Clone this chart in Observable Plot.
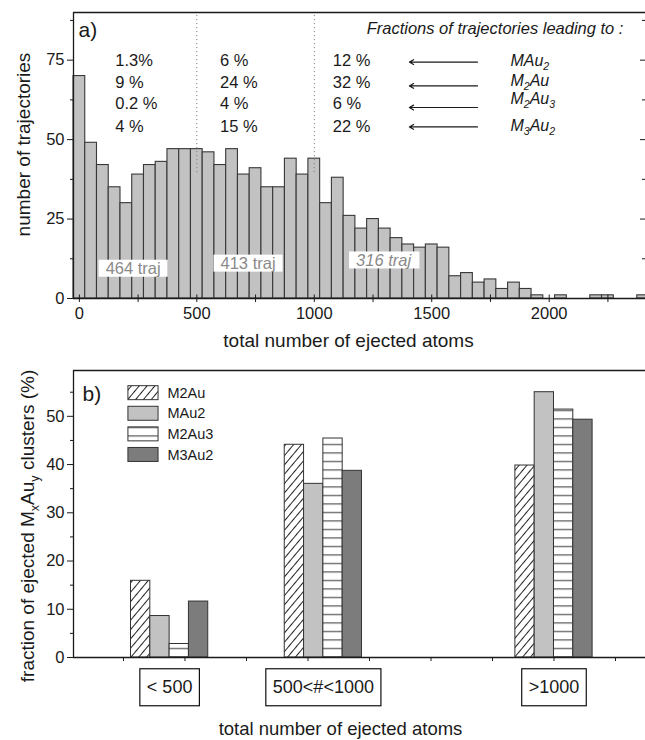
<!DOCTYPE html>
<html>
<head>
<meta charset="utf-8">
<script src="https://cdn.jsdelivr.net/npm/d3@7"></script>
<script src="https://cdn.jsdelivr.net/npm/@observablehq/plot@0.6"></script>
<style>
  body { margin: 0; background: #fff; }
  svg { display: block; }
</style>
</head>
<body>
<div id="chart"></div>
<script>
// ---------- data: (a) histogram of trajectories ----------
const binWidth = 50;
const binCenters = d3.range(0, 2401, binWidth);
const trajCounts = [70, 49, 42, 35, 30, 39, 42, 43, 47, 47,
                    47, 46, 42, 47, 39, 41, 35, 35, 44, 39,
                    44, 30, 38, 26, 22, 25, 22, 19, 17, 16,
                    17, 16, 7, 8, 5, 6, 3, 5, 3, 1,
                    0, 1, 0, 0, 1, 1, 0, 0, 1];
const regionSplits = [500, 1000];
const regionTraj = [464, 413, 316];
const species = ["MAu_2", "M_2Au", "M_2Au_3", "M_3Au_2"];
const fracBelow500 = ["1.3%", "9 %", "0.2 %", "4 %"];
const frac500to1000 = ["6 %", "24 %", "4 %", "15 %"];
const fracAbove1000 = ["12 %", "32 %", "6 %", "22 %"];

// ---------- data: (b) cluster fractions per size range ----------
const sizeRanges = ["< 500", "500<#<1000", ">1000"];
const clusterTypes = ["M2Au", "MAu2", "M2Au3", "M3Au2"];
const fracM2Au = [15.9, 44.1, 39.8];
const fracMAu2 = [8.6, 36.0, 55.0];
const fracM2Au3 = [2.8, 45.4, 51.4];
const fracM3Au2 = [11.6, 38.7, 49.3];

// ---------- shared styling ----------
const FONT = "'Liberation Sans', Arial, Helvetica, sans-serif";
const INK = "#1a1a1a";
const baseStyle = {fontFamily: FONT, fontSize: "16.5px", color: INK, background: "white", overflow: "visible"};

// ================= panel (a) =================
const xDomA = [-25, 2410], yDomA = [0, 90];
const hist = binCenters
  .map((c, i) => ({x1: c - binWidth / 2, x2: c + binWidth / 2, n: trajCounts[i]}))
  .filter(d => d.n > 0);

const fracCols = [fracBelow500, frac500to1000, fracAbove1000];
const fracRows = [];
fracCols.forEach((col, j) => col.forEach((t, i) => fracRows.push({col: j, row: i, text: t})));
const colX = [153, 599, 1079];          // start of each column of fractions
const rowY = [74.7, 67.9, 61.2, 54.1];  // one row per cluster species
const arrowY = [74.4, 66.9, 60.1, 54.0];
const speciesY = [74.9, 68.4, 62.8, 54.3];

const trajLabels = regionTraj.map((n, i) => ({
  text: `${n} traj`, x: [229, 718, 1295][i], y: [9.3, 10.9, 11.9][i], italic: i === 2
}));

const unitsPerPxA = (xDomA[1] - xDomA[0]) / 572;
const unitsPerPyA = (yDomA[1] - yDomA[0]) / 286;

const plotA = Plot.plot({
  width: 645, height: 355,
  marginLeft: 73, marginRight: 0, marginTop: 12, marginBottom: 57,
  x: {domain: xDomA},
  y: {domain: yDomA},
  style: baseStyle,
  marks: [
    Plot.rectY(hist, {x1: "x1", x2: "x2", y: "n", fill: "#c2c2c2", stroke: "#383838", strokeWidth: 1.1}),
    Plot.ruleX(regionSplits, {y1: 39.6, y2: 89.3, stroke: "#808080", strokeWidth: 1, strokeDasharray: "1.2,2.8"}),
    // frame (left, top, bottom)
    Plot.ruleX([xDomA[0]], {stroke: INK, strokeWidth: 1.3}),
    Plot.ruleY([0, yDomA[1]], {stroke: INK, strokeWidth: 1.3}),
    // axes
    Plot.axisY({ticks: [0, 25, 50, 75], tickSize: 6, tickPadding: 3, label: null, fontSize: 16.5}),
    Plot.axisY({ticks: [12.5, 37.5, 62.5, 87.5], tickSize: 3, tickFormat: () => "", label: null}),
    Plot.ruleY([12.5, 25, 37.5, 50, 62.5, 75, 87.5], {
      x1: d => xDomA[1] - (d % 25 === 0 ? 5 : 3) * unitsPerPxA, x2: xDomA[1], stroke: INK
    }),
    Plot.axisX({ticks: [0, 500, 1000, 1500, 2000], tickSize: 4, tickPadding: 5, label: null,
      tickFormat: d => String(d), fontSize: 16.5}),
    Plot.axisX({ticks: d3.range(250, 2401, 500), tickSize: 4, tickFormat: () => "", label: null}),
    Plot.ruleX(d3.range(0, 2401, 250), {y1: 0, y2: 3.5 * unitsPerPyA, stroke: INK}),
    // axis titles
    Plot.text(["total number of ejected atoms"], {text: d => d, frameAnchor: "bottom", dy: 42, dx: -11,
      textAnchor: "middle", lineAnchor: "middle", fontSize: 19}),
    Plot.text(["number of trajectories"], {text: d => d, frameAnchor: "left", rotate: -90, dx: -50, dy: -11,
      textAnchor: "middle", lineAnchor: "middle", fontSize: 19}),
    // panel tag and annotations
    Plot.text(["a)"], {text: d => d, frameAnchor: "top-left", dx: 5, dy: 18, textAnchor: "start",
      lineAnchor: "middle", fontSize: 21}),
    Plot.text(["Fractions of trajectories leading to :"], {text: d => d, x: 1223, y: 84.8,
      textAnchor: "start", fontStyle: "italic", fontSize: 16.5}),
    Plot.text(fracRows, {x: d => colX[d.col], y: d => rowY[d.row], text: "text", textAnchor: "start", fontSize: 16.5}),
    Plot.arrow(arrowY, {x1: 1695, x2: 1405, y1: d => d, y2: d => d, headLength: 6, stroke: INK, strokeWidth: 1.2}),
    Plot.text(species, {x: 1835, y: (d, i) => speciesY[i], text: d => d, textAnchor: "start",
      fontStyle: "italic", fontSize: 16}),
    Plot.text(trajLabels.filter(d => !d.italic), {x: "x", y: "y", text: "text", fill: "#8a8a8a", fontSize: 16.5}),
    Plot.text(trajLabels.filter(d => d.italic), {x: "x", y: "y", text: "text", fill: "#8a8a8a",
      fontSize: 16.5, fontStyle: "italic"})
  ]
});

// ================= panel (b) =================
const xDomB = [-0.813, 8.488], yDomB = [0, 59.5];
const groupPos = [0.75, 3.25, 7];
const barW = 0.314;
const seriesVals = [fracM2Au, fracMAu2, fracM2Au3, fracM3Au2];
const barsB = [];
clusterTypes.forEach((type, k) => seriesVals[k].forEach((v, g) => barsB.push({
  type, v, x1: groupPos[g] + (k - 2) * barW, x2: groupPos[g] + (k - 1) * barW
})));
const fills = {M2Au: "url(#hatchDiag)", MAu2: "#c2c2c2", M2Au3: "url(#hatchHoriz)", M3Au2: "#7c7c7c"};

// legend layout (data units)
const legendX = [0.08, 0.57], legendTextX = 0.715;
const legendTop = 54.8, legendStep = 4.27, legendHalf = 1.45;

const plotB = Plot.plot({
  width: 645, height: 385,
  marginLeft: 73, marginRight: 0, marginTop: 15, marginBottom: 83,
  x: {domain: xDomB},
  y: {domain: yDomB},
  style: baseStyle,
  marks: [
    ...clusterTypes.map(t => Plot.rectY(barsB.filter(d => d.type === t), {
      x1: "x1", x2: "x2", y: "v", fill: fills[t], stroke: "#333", strokeWidth: 1
    })),
    Plot.ruleX([xDomB[0]], {stroke: INK, strokeWidth: 1.3}),
    Plot.ruleY([0, yDomB[1]], {stroke: INK, strokeWidth: 1.3}),
    Plot.axisY({ticks: d3.range(0, 51, 10), tickSize: 6, tickPadding: 3, label: null, fontSize: 16.5}),
    Plot.axisY({ticks: d3.range(5, 56, 10), tickSize: 3, tickFormat: () => "", label: null}),
    Plot.axisX({ticks: d3.range(0, 9), tickSize: 4, tickFormat: () => "", label: null}),
    // legend
    ...clusterTypes.map((t, i) => Plot.rect([t], {
      x1: legendX[0], x2: legendX[1],
      y1: legendTop - i * legendStep - legendHalf, y2: legendTop - i * legendStep + legendHalf,
      fill: fills[t], stroke: "#333", strokeWidth: 1
    })),
    Plot.text(clusterTypes, {x: legendTextX, y: (d, i) => legendTop - i * legendStep, text: d => d,
      textAnchor: "start", fontSize: 14.5}),
    Plot.text(["b)"], {text: d => d, frameAnchor: "top-left", dx: 9, dy: 24, textAnchor: "start",
      lineAnchor: "middle", fontSize: 21}),
    // size-range labels, boxed below each group
    Plot.text(sizeRanges, {x: (d, i) => groupPos[i], y: 0, dy: 30, text: d => d, fontSize: 18,
      lineAnchor: "middle"}),
    // axis titles
    Plot.text(["total number of ejected atoms"], {text: d => d, frameAnchor: "bottom", dy: 72, dx: -19,
      textAnchor: "middle", lineAnchor: "middle", fontSize: 18.5}),
    Plot.text(["fraction of ejected M_xAu_y clusters (%)"], {text: d => d, frameAnchor: "left", rotate: -90,
      dx: -46, dy: 12, textAnchor: "middle", lineAnchor: "middle", fontSize: 19})
  ]
});

// fill patterns for the hatched bars
const defs = d3.select(plotB).insert("defs", ":first-child");
const diag = defs.append("pattern").attr("id", "hatchDiag").attr("patternUnits", "userSpaceOnUse")
  .attr("width", 6).attr("height", 6).attr("patternTransform", "rotate(40)");
diag.append("rect").attr("width", 6).attr("height", 6).attr("fill", "white");
diag.append("line").attr("x1", 0.5).attr("x2", 0.5).attr("y1", 0).attr("y2", 6)
  .attr("stroke", "#222").attr("stroke-width", 1);
const horiz = defs.append("pattern").attr("id", "hatchHoriz").attr("patternUnits", "userSpaceOnUse")
  .attr("width", 10).attr("height", 8.5);
horiz.append("rect").attr("width", 10).attr("height", 8.5).attr("fill", "white");
horiz.append("line").attr("x1", 0).attr("x2", 10).attr("y1", 4.5).attr("y2", 4.5)
  .attr("stroke", "#333").attr("stroke-width", 1);

const root = document.getElementById("chart");
root.append(plotA, plotB);

// turn "_x" into subscripts
function subscripts(svg) {
  d3.select(svg).selectAll("text").each(function () {
    const s = this.textContent;
    if (!s.includes("_")) return;
    const fs = parseFloat(getComputedStyle(this).fontSize) || 16;
    const parts = s.split(/_(\w)/);
    const node = d3.select(this);
    this.textContent = "";
    let low = false;
    parts.forEach((p, i) => {
      if (p === "") return;
      const t = node.append("tspan").text(p);
      if (i % 2 === 1) {
        t.attr("font-size", fs * 0.66);
        if (!low) { t.attr("dy", fs * 0.26); low = true; }
      } else if (low) {
        t.attr("dy", -fs * 0.26); low = false;
      }
    });
  });
}
subscripts(plotA);
subscripts(plotB);

// boxes behind the texts whose content is listed
function boxes(svg, labels, padX, padY, fill, stroke) {
  d3.select(svg).selectAll("text").each(function () {
    if (!labels.includes(this.textContent)) return;
    const b = this.getBBox();
    const r = d3.select(this.parentNode).insert("rect", () => this)
      .attr("x", b.x - padX).attr("y", b.y - padY)
      .attr("width", b.width + 2 * padX).attr("height", b.height + 2 * padY)
      .attr("fill", fill).attr("stroke", stroke).attr("stroke-width", stroke === "none" ? 0 : 1.2);
    const tr = this.getAttribute("transform");
    if (tr) r.attr("transform", tr);
  });
}
boxes(plotA, trajLabels.map(d => d.text), 7, -0.5, "white", "none");
boxes(plotB, sizeRanges, 7, 8.5, "white", "#111");
</script>
</body>
</html>
